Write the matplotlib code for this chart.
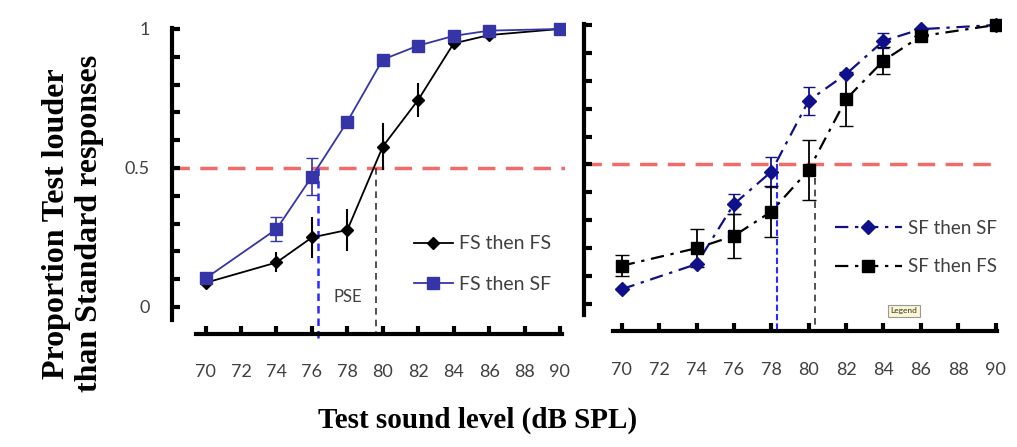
import numpy as np
import matplotlib
matplotlib.use("Agg")
import matplotlib.pyplot as plt

# データ
levels = [70, 74, 76, 78, 80, 82, 84, 86, 90]
xticks = [70, 72, 74, 76, 78, 80, 82, 84, 86, 88, 90]

# 左パネル
fs_fs = [0.087, 0.16, 0.25, 0.277, 0.577, 0.745, 0.948, 0.978, 1.0]
fs_fs_err = [0.0, 0.036, 0.074, 0.074, 0.084, 0.062, 0.0, 0.0, 0.0]
fs_sf = [0.103, 0.28, 0.469, 0.667, 0.89, 0.94, 0.975, 0.994, 1.0]
fs_sf_err = [0.0, 0.044, 0.066, 0.018, 0.0, 0.0, 0.0, 0.0, 0.0]
pse_left = [76.35, 79.6]

# 右パネル
sf_sf = [0.053, 0.143, 0.358, 0.474, 0.729, 0.824, 0.943, 0.985, 1.0]
sf_sf_err = [0.0, 0.0, 0.036, 0.054, 0.05, 0.0, 0.027, 0.0, 0.0]
sf_fs = [0.137, 0.2, 0.244, 0.331, 0.48, 0.734, 0.872, 0.96, 1.0]
sf_fs_err = [0.038, 0.067, 0.08, 0.092, 0.108, 0.097, 0.049, 0.0, 0.0]
pse_right = [78.32, 80.34]

gray = '#404040'
blue_l = '#3535a8'
navy = '#10108a'
red = '#f26b6b'
plt.rcParams['font.family'] = ['Lato', 'DejaVu Sans']

fig = plt.figure(figsize=(10.17, 4.47), dpi=100)
ax1 = fig.add_axes([0.1691, 0.22, 0.3867, 0.7463])
ax2 = fig.add_axes([0.5742, 0.2263, 0.4103, 0.749])

def style(ax, xlo, spine_lo, xl, xr):
    ax.set_xlim(xlo, 90.3)
    ax.set_ylim(-0.15, 1.05)
    ax.spines['top'].set_visible(False)
    ax.spines['right'].set_visible(False)
    ax.spines['left'].set_linewidth(3)
    ax.spines['bottom'].set_linewidth(3)
    ax.spines['left'].set_bounds(spine_lo, 1.005)
    ax.spines['bottom'].set_position(('data', -0.097))
    ax.spines['bottom'].set_bounds(xl, xr)
    ax.set_xticks(xticks)
    ax.set_yticks(np.arange(0, 1.01, 0.1))
    ax.tick_params(axis='both', direction='in', width=3, length=6,
                   labelsize=13, labelcolor=gray)
    ax.tick_params(axis='x', pad=22)
    ax.tick_params(axis='y', pad=16)
    ax.axhline(0.5, color=red, lw=2.5, ls=(0, (5, 3)), zorder=1)

style(ax1, 68.1, -0.047, 69.44, 90.1)
style(ax2, 67.98, -0.04, 69.53, 90.1)

ax1.set_yticklabels(['0', '', '', '', '', '0.5', '', '', '', '', '1'])
ax2.set_yticklabels([])

# 左パネル
c1 = ax1.errorbar(levels, fs_fs, yerr=fs_fs_err, color='black', marker='D',
                  markersize=6, lw=1.3, elinewidth=1.5, capsize=0, zorder=3)
c2 = ax1.errorbar(levels, fs_sf, yerr=fs_sf_err, color=blue_l, marker='s',
                  markersize=8, lw=1.3, elinewidth=1.2, capsize=4, zorder=3)
ax1.plot([pse_left[0], pse_left[0]], [0.5, -0.125], color='#2a2aff', lw=1.8, ls=(0, (3, 2)), zorder=2)
ax1.plot([pse_left[1], pse_left[1]], [0.5, -0.094], color='#333333', lw=1.2, ls=(0, (4, 3)), zorder=2)
ax1.text(78, 0.037, 'PSE', fontsize=12, color=gray, ha='center', va='center')
ax1.legend([c1[0], c2[0]], ['FS then FS', 'FS then SF'], loc='upper left',
           bbox_to_anchor=(0.57, 0.392), frameon=False, fontsize=14, labelcolor=gray,
           handlelength=2.0, handletextpad=0.35, labelspacing=1.2)

# 右パネル
c3 = ax2.errorbar(levels, sf_sf, yerr=sf_sf_err, color=navy, marker='D',
                  markersize=7, lw=1.6, ls=(0, (6, 3, 1.5, 3)), elinewidth=1.3, capsize=4,
                  zorder=3)
c4 = ax2.errorbar(levels, sf_fs, yerr=sf_fs_err, color='black', marker='s',
                  markersize=9, lw=1.6, ls=(0, (6, 3, 1.5, 3)), elinewidth=1.3, capsize=5,
                  zorder=3)
ax2.plot([pse_right[0], pse_right[0]], [0.5, -0.097], color='#2a2aff', lw=1.5, ls=(0, (3, 1.5)), zorder=2)
ax2.plot([pse_right[1], pse_right[1]], [0.45, -0.097], color='#333333', lw=1.2, ls=(0, (4, 3)), zorder=2)
ax2.legend([c3[0], c4[0]], ['SF then SF', 'SF then FS'], loc='upper left',
           bbox_to_anchor=(0.56, 0.427), frameon=False, fontsize=13.5, labelcolor=gray,
           handlelength=3.6, handletextpad=0.3, labelspacing=1.15)
ax2.text(0.735, 0.105, 'Legend', transform=ax2.transAxes, fontsize=6, color='#333333',
         ha='left', va='center',
         bbox=dict(boxstyle='square,pad=0.3', fc='#fbf7d0', ec='#999999', lw=0.8))

# 軸ラベル
serif = ['Liberation Serif', 'DejaVu Serif']
fig.text(0.072, 0.5, 'Proportion Test louder\nthan Standard responses', rotation=90,
         ha='center', va='center', fontsize=23, fontweight='bold', family=serif,
         linespacing=1.2)
fig.text(0.47, 0.06, 'Test sound level (dB SPL)', ha='center', va='center',
         fontsize=21, fontweight='bold', family=serif)

plt.savefig('out.png', dpi=100)
